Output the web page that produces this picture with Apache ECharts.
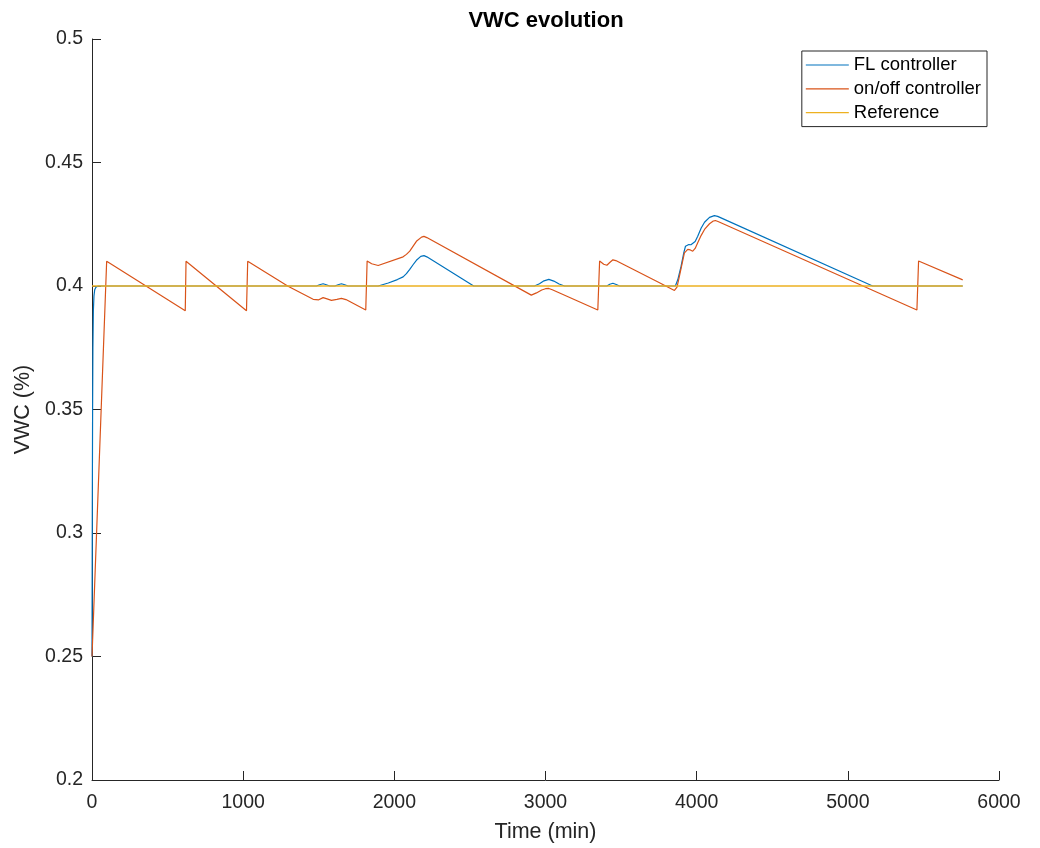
<!DOCTYPE html>
<html>
<head>
<meta charset="utf-8">
<title>VWC evolution</title>
<script src="https://cdn.jsdelivr.net/npm/echarts@6/dist/echarts.min.js"></script>
<style>
  html, body { margin: 0; padding: 0; background: #fff; }
  #chart { width: 1040px; height: 848px; }
</style>
</head>
<body>
<div id="chart"></div>
<script>
// Axis ticks (time in minutes, VWC as a fraction)
const xTicks = [0, 1000, 2000, 3000, 4000, 5000, 6000];
const yTicks = [0.2, 0.25, 0.3, 0.35, 0.4, 0.45, 0.5];

// Series names
const seriesNames = ['FL controller', 'on/off controller', 'Reference'];

// Fuzzy-logic controller response [time, VWC]
const flController = [
  [0, 0.25], [2, 0.31], [4, 0.35], [6, 0.375], [9, 0.39], [13, 0.396], [18, 0.3985],
  [26, 0.3995], [40, 0.4], [1485, 0.4], [1505, 0.4005], [1529, 0.4009], [1550, 0.4005],
  [1573, 0.4], [1606, 0.4], [1628, 0.4005], [1650, 0.4009], [1672, 0.4005], [1694, 0.4],
  [1893, 0.4], [1960, 0.4012], [2020, 0.4026], [2058, 0.4037], [2080, 0.405], [2102, 0.4067],
  [2125, 0.4087], [2146, 0.4104], [2175, 0.412], [2196, 0.4123], [2215, 0.4118], [2525, 0.4],
  [2927, 0.4], [2960, 0.4009], [2990, 0.4021], [3022, 0.4027], [3055, 0.402], [3090, 0.4008],
  [3126, 0.4], [3406, 0.4], [3425, 0.4007], [3446, 0.4011], [3468, 0.4006], [3490, 0.4],
  [3859, 0.4], [3875, 0.4025], [3897, 0.408], [3915, 0.4135], [3926, 0.4161], [3948, 0.4168],
  [3962, 0.4167], [3974, 0.4165], [3990, 0.418], [4007, 0.4201], [4030, 0.4235], [4052, 0.4258],
  [4085, 0.4278], [4117, 0.4285], [4139, 0.4282], [5164, 0.4], [5760, 0.4]
];

// On/off controller response [time, VWC]
const onOffController = [
  [0, 0.25], [97, 0.41], [617, 0.39], [622, 0.41], [1022, 0.39], [1030, 0.41],
  [1297, 0.3999], [1463, 0.3946], [1500, 0.3944], [1529, 0.3953], [1555, 0.3948],
  [1584, 0.3942], [1620, 0.3946], [1650, 0.395], [1680, 0.3945], [1811, 0.3903],
  [1820, 0.4101], [1850, 0.409], [1893, 0.4083], [2058, 0.4118], [2080, 0.4128],
  [2102, 0.4141], [2146, 0.4181], [2180, 0.4198], [2196, 0.4201], [2215, 0.4196],
  [2906, 0.3963], [2940, 0.3972], [2975, 0.3984], [3000, 0.3989], [3022, 0.399],
  [3045, 0.3985], [3346, 0.3903], [3358, 0.4101], [3385, 0.4088], [3406, 0.4084],
  [3425, 0.4095], [3446, 0.4106], [3465, 0.4103], [3754, 0.4013], [3853, 0.3982],
  [3870, 0.3995], [3886, 0.404], [3905, 0.4095], [3919, 0.4134], [3941, 0.4148],
  [3958, 0.4146], [3974, 0.4141], [3990, 0.4152], [4007, 0.4175], [4030, 0.4205],
  [4052, 0.4229], [4085, 0.4252], [4110, 0.4263], [4124, 0.4265], [4145, 0.426],
  [5457, 0.3903], [5468, 0.4101], [5760, 0.4025]
];

// Set-point
const reference = [[0, 0.4], [5760, 0.4]];

const colors = ['#0072BD', '#D95319', '#EDB120'];
const axisColor = '#262626';
const font = 'Liberation Sans, Arial, Helvetica, sans-serif';
const lineWidth = 1.2;

const chart = echarts.init(document.getElementById('chart'), null, { renderer: 'canvas' });

chart.setOption({
  animation: false,
  backgroundColor: '#fff',
  color: colors,
  title: {
    text: 'VWC evolution',
    left: 546,
    top: 10,
    padding: 0,
    textAlign: 'center',
    textStyle: { fontFamily: font, fontSize: 22, fontWeight: 'bold', color: '#000' }
  },
  grid: { left: 92, right: 41, top: 39, bottom: 66, containLabel: false },
  legend: {
    orient: 'vertical',
    right: 53,
    top: 51,
    padding: [4, 6, 4, 4],
    itemGap: 3.8,
    itemWidth: 43,
    itemHeight: 1.2,
    icon: 'rect',
    borderColor: axisColor,
    borderWidth: 1,
    backgroundColor: '#fff',
    data: seriesNames,
    textStyle: { fontFamily: font, fontSize: 18.5, color: '#000', lineHeight: 20 }
  },
  xAxis: {
    type: 'value',
    min: xTicks[0],
    max: xTicks[xTicks.length - 1],
    interval: xTicks[1] - xTicks[0],
    name: 'Time (min)',
    nameLocation: 'middle',
    nameGap: 41,
    nameTextStyle: { fontFamily: font, fontSize: 21.5, color: axisColor },
    axisLine: { show: true, onZero: false, lineStyle: { color: axisColor, width: 1 } },
    axisTick: { show: true, inside: true, length: 9, lineStyle: { color: axisColor } },
    axisLabel: {
      margin: 13, fontFamily: font, fontSize: 19.5, color: axisColor,
      showMinLabel: true, showMaxLabel: true,
      formatter: v => String(v)
    },
    splitLine: { show: false }
  },
  yAxis: {
    type: 'value',
    min: yTicks[0],
    max: yTicks[yTicks.length - 1],
    interval: 0.05,
    name: 'VWC (%)',
    nameLocation: 'middle',
    nameGap: 55,
    nameTextStyle: { fontFamily: font, fontSize: 21.5, color: axisColor },
    axisLine: { show: true, onZero: false, lineStyle: { color: axisColor, width: 1 } },
    axisTick: { show: true, inside: true, length: 9, lineStyle: { color: axisColor } },
    axisLabel: {
      margin: 9, fontFamily: font, fontSize: 19.5, color: axisColor,
      showMinLabel: true, showMaxLabel: true,
      formatter: v => String(+v.toFixed(2))
    },
    splitLine: { show: false }
  },
  series: [
    { name: seriesNames[0], type: 'line', data: flController, symbol: 'none',
      lineStyle: { color: colors[0], width: lineWidth }, z: 2 },
    { name: seriesNames[1], type: 'line', data: onOffController, symbol: 'none',
      lineStyle: { color: colors[1], width: lineWidth }, z: 3 },
    { name: seriesNames[2], type: 'line', data: reference, symbol: 'none',
      lineStyle: { color: colors[2], width: 1.5 }, z: 4 }
  ]
});
</script>
</body>
</html>
